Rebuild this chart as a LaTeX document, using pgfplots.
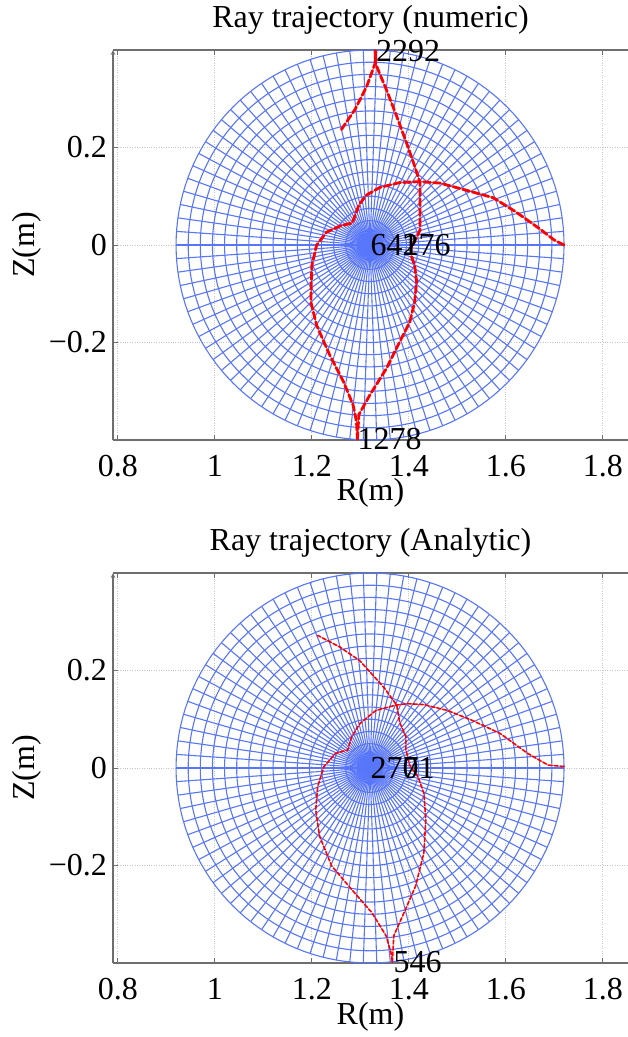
\documentclass[border=0pt]{standalone}
\usepackage{fontspec}
\setmainfont{Liberation Serif}
\usepackage{pgfplots}
\pgfplotsset{compat=1.18}

\definecolor{meshblue}{RGB}{88,118,250}
\definecolor{framegray}{RGB}{110,110,110}

% Flux-surface mesh: circular surfaces around the magnetic axis (R0 = 1.32 m, a = 0.4 m)
\newcommand{\fluxmesh}{%
  \pgfplotsinvokeforeach{1,...,16}{%
    \addplot[meshblue, line width=1.1pt, domain=0:360, samples=145, forget plot]
      ({1.32+0.025*##1*cos(x)},{0.025*##1*sin(x)});
  }%
  \pgfplotsinvokeforeach{0,4,...,356}{%
    \addplot[meshblue, line width=1.1pt, domain=0:0.4, samples=2, forget plot]
      ({1.32+x*cos(##1)},{x*sin(##1)});
  }%
}

\pgfplotsset{
  rayaxis/.style={
    scale only axis, width=515pt, height=390pt,
    xmin=0.79, xmax=1.8519, ymin=-0.4, ymax=0.4,
    axis x line=box, axis y line=left,
    axis line style={framegray, line width=1.2pt},
    xtick={0.8,1,1.2,1.4,1.6,1.8}, xticklabels={0.8,1,1.2,1.4,1.6,1.8},
    ytick={-0.2,0,0.2}, yticklabels={−0.2,0,0.2},
    tick align=inside, major tick length=5pt,
    tick style={framegray, line width=0.8pt},
    grid=major, major grid style={gray!45, dotted, line width=0.8pt},
    font=\fontsize{32}{38}\selectfont,
    xticklabel style={anchor=north, inner sep=0pt, yshift=-15pt},
    yticklabel style={anchor=east, inner sep=0pt, xshift=-6pt},
    xlabel={R(m)}, ylabel={Z(m)},
    xlabel style={at={([yshift=-61pt]axis description cs:0.5,0)}, anchor=base, inner sep=0pt},
    ylabel style={at={([xshift=-78pt]axis description cs:0,0.5)}, anchor=base, inner sep=0pt},
    title style={at={([yshift=17pt]axis description cs:0.5,1)}, anchor=base, inner sep=0pt},
    clip=false,
  },
  ray/.style={red, dashed, dash pattern=on 7pt off 3pt, line cap=round},
}

\begin{document}
\begin{tikzpicture}
\useasboundingbox (0pt,0pt) rectangle (628pt,1037pt);

% ---------------- numeric ray ----------------
\begin{axis}[rayaxis, at={(113pt,597pt)}, anchor=south west,
             title={Ray trajectory (numeric)}]
\fluxmesh
% launch at the outboard edge, down the high-field side to the lower wall
\addplot[ray, line width=2.8pt] coordinates {
  (1.720,0.000) (1.700,0.010) (1.670,0.033) (1.622,0.067) (1.574,0.097)
  (1.505,0.116) (1.464,0.127) (1.423,0.130) (1.381,0.128) (1.340,0.118)
  (1.312,0.102) (1.297,0.082) (1.289,0.060) (1.283,0.045) (1.270,0.042)
  (1.258,0.039) (1.230,0.026) (1.210,0.000) (1.200,-0.042) (1.199,-0.076)
  (1.198,-0.117) (1.210,-0.165) (1.237,-0.226) (1.265,-0.280) (1.285,-0.328)
  (1.292,-0.362) (1.294,-0.398)
};
% reflected from the lower wall, up the low-field side to the upper wall
\addplot[ray, line width=2.8pt] coordinates {
  (1.294,-0.398) (1.297,-0.348) (1.320,-0.307) (1.354,-0.253) (1.381,-0.199)
  (1.402,-0.158) (1.412,-0.117) (1.416,-0.076) (1.412,-0.042) (1.405,-0.022)
  (1.405,-0.005) (1.414,0.012) (1.423,0.030) (1.423,0.060) (1.423,0.100)
  (1.423,0.128) (1.412,0.162) (1.395,0.210) (1.375,0.264) (1.354,0.318)
  (1.338,0.356) (1.331,0.374) (1.331,0.398)
};
% reflected from the upper wall
\addplot[ray, line width=2.8pt] coordinates {
  (1.331,0.398) (1.331,0.374) (1.313,0.325) (1.289,0.278) (1.261,0.237)
};
\node[anchor=west, inner sep=0pt] at (axis cs:1.332,0.398) {2292};
\node[anchor=west, inner sep=0pt] at (axis cs:1.294,-0.398) {1278};
\node[anchor=west, inner sep=0pt] at (axis cs:1.321,0) {642};
\node[anchor=west, inner sep=0pt] at (axis cs:1.387,0) {176};
\end{axis}

% ---------------- analytic ray ----------------
\begin{axis}[rayaxis, at={(113pt,74pt)}, anchor=south west,
             title={Ray trajectory (Analytic)}]
\fluxmesh
\addplot[ray, line width=1.6pt, dash pattern=on 4pt off 2pt] coordinates {
  (1.720,0.003) (1.687,0.006) (1.645,0.030) (1.588,0.071) (1.530,0.098)
  (1.480,0.118) (1.431,0.130) (1.398,0.132) (1.373,0.129) (1.332,0.118)
  (1.299,0.091) (1.282,0.064) (1.278,0.050) (1.274,0.037) (1.249,0.030)
  (1.225,0.003) (1.212,-0.038) (1.208,-0.086) (1.216,-0.140) (1.241,-0.201)
  (1.282,-0.249) (1.324,-0.297) (1.353,-0.344) (1.363,-0.378) (1.366,-0.398)
};
\addplot[ray, line width=1.6pt, dash pattern=on 4pt off 2pt] coordinates {
  (1.366,-0.398) (1.369,-0.344) (1.390,-0.297) (1.414,-0.242) (1.431,-0.174)
  (1.435,-0.106) (1.431,-0.052) (1.419,-0.018) (1.402,0.005) (1.394,0.037)
  (1.394,0.064) (1.381,0.094) (1.375,0.129) (1.348,0.166) (1.299,0.220)
  (1.258,0.248) (1.212,0.272)
};
\node[anchor=west, inner sep=0pt] at (axis cs:1.368,-0.398) {546};
\node[anchor=west, inner sep=0pt] at (axis cs:1.321,0) {2701};
\node[anchor=west, inner sep=0pt] at (axis cs:1.387,0) {7};
\end{axis}
\end{tikzpicture}
\end{document}
